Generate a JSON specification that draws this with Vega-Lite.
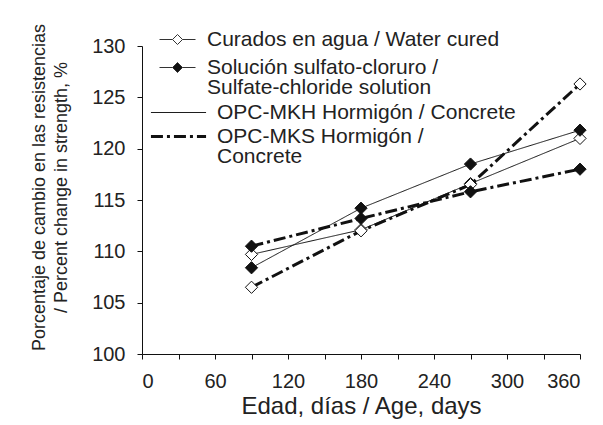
{
  "$schema": "https://vega.github.io/schema/vega-lite/v6.json",
  "width": 438,
  "height": 308,
  "autosize": "none",
  "padding": {"left": 142, "top": 46, "right": 23, "bottom": 71},
  "background": "white",
  "config": {
    "view": {"stroke": null},
    "font": "Liberation Sans",
    "style": {"guide-label": {"lineHeight": 20}},
    "axis": {
      "grid": false,
      "domainColor": "#111",
      "tickColor": "#111",
      "tickSize": 5,
      "labelColor": "#222",
      "labelFont": "Liberation Sans",
      "labelFontSize": 20,
      "labelPadding": 12,
      "titleFont": "Liberation Sans",
      "titleFontSize": 18,
      "titleFontWeight": "normal",
      "titleColor": "#222"
    },
    "legend": {
      "labelFont": "Liberation Sans",
      "labelFontSize": 21,
      "labelColor": "#222",
      "labelLimit": 400
    }
  },
  "data": {
    "values": [
      {"day": 90, "mix": "OPC-MKH Hormigón / Concrete", "curing": "Curados en agua / Water cured", "value": 109.7},
      {"day": 180, "mix": "OPC-MKH Hormigón / Concrete", "curing": "Curados en agua / Water cured", "value": 112.1},
      {"day": 270, "mix": "OPC-MKH Hormigón / Concrete", "curing": "Curados en agua / Water cured", "value": 116.6},
      {"day": 360, "mix": "OPC-MKH Hormigón / Concrete", "curing": "Curados en agua / Water cured", "value": 121.0},
      {"day": 90, "mix": "OPC-MKH Hormigón / Concrete", "curing": "Solución sulfato-cloruro /|Sulfate-chloride solution", "value": 108.4},
      {"day": 180, "mix": "OPC-MKH Hormigón / Concrete", "curing": "Solución sulfato-cloruro /|Sulfate-chloride solution", "value": 114.2},
      {"day": 270, "mix": "OPC-MKH Hormigón / Concrete", "curing": "Solución sulfato-cloruro /|Sulfate-chloride solution", "value": 118.5},
      {"day": 360, "mix": "OPC-MKH Hormigón / Concrete", "curing": "Solución sulfato-cloruro /|Sulfate-chloride solution", "value": 121.8},
      {"day": 90, "mix": "OPC-MKS Hormigón /|Concrete", "curing": "Curados en agua / Water cured", "value": 106.5},
      {"day": 180, "mix": "OPC-MKS Hormigón /|Concrete", "curing": "Curados en agua / Water cured", "value": 112.0},
      {"day": 270, "mix": "OPC-MKS Hormigón /|Concrete", "curing": "Curados en agua / Water cured", "value": 116.5},
      {"day": 360, "mix": "OPC-MKS Hormigón /|Concrete", "curing": "Curados en agua / Water cured", "value": 126.3},
      {"day": 90, "mix": "OPC-MKS Hormigón /|Concrete", "curing": "Solución sulfato-cloruro /|Sulfate-chloride solution", "value": 110.5},
      {"day": 180, "mix": "OPC-MKS Hormigón /|Concrete", "curing": "Solución sulfato-cloruro /|Sulfate-chloride solution", "value": 113.2},
      {"day": 270, "mix": "OPC-MKS Hormigón /|Concrete", "curing": "Solución sulfato-cloruro /|Sulfate-chloride solution", "value": 115.8},
      {"day": 360, "mix": "OPC-MKS Hormigón /|Concrete", "curing": "Solución sulfato-cloruro /|Sulfate-chloride solution", "value": 118.0}
    ]
  },
  "encoding": {
    "x": {
      "field": "day",
      "type": "quantitative",
      "scale": {"domain": [0, 360], "nice": false},
      "axis": {
        "values": [0, 30, 60, 90, 120, 150, 180, 210, 240, 270, 300, 330, 360],
        "labelExpr": "datum.value % 60 == 0 ? datum.label : ''",
        "title": "Edad, días / Age, days",
        "titleFontSize": 24,
        "titlePadding": 3
      }
    },
    "y": {
      "field": "value",
      "type": "quantitative",
      "scale": {"domain": [100, 130], "nice": false, "zero": false},
      "axis": {
        "values": [100, 105, 110, 115, 120, 125, 130],
        "title": ["Porcentaje de cambio en las resistencias", "/ Percent change in strength, %"],
        "titleLineHeight": 22,
        "titlePadding": 21,
        "titleY": 141
      }
    }
  },
  "layer": [
    {
      "mark": {"type": "line", "color": "#111"},
      "encoding": {
        "detail": {"field": "curing", "type": "nominal"},
        "strokeDash": {
          "field": "mix",
          "type": "nominal",
          "scale": {"range": [[1, 0], [12, 4, 3, 4]]},
          "legend": {
            "title": null,
            "orient": "none",
            "legendX": 26,
            "legendY": 56,
            "rowPadding": 2,
            "symbolType": "M-4.5,0H4.5",
            "symbolSize": 150,
            "symbolStrokeColor": "#111",
            "labelOffset": 28,
            "labelExpr": "split(datum.label, '|')"
          }
        },
        "strokeWidth": {
          "field": "mix",
          "type": "nominal",
          "scale": {"type": "ordinal", "range": [1, 3]}
        }
      }
    },
    {
      "mark": {"type": "point", "shape": "diamond", "filled": true, "stroke": "#111", "strokeWidth": 1, "size": 150, "opacity": 1},
      "encoding": {
        "fill": {
          "field": "curing",
          "type": "nominal",
          "scale": {"range": ["white", "#111"]},
          "legend": {
            "title": null,
            "orient": "none",
            "legendX": 25,
            "legendY": -17,
            "rowPadding": 6,
            "symbolType": "M-3.6,0H-1M1,0H3.6M0,-1L1,0L0,1L-1,0Z",
            "symbolStrokeColor": "#333",
            "symbolStrokeWidth": 1,
            "labelOffset": 19,
            "labelExpr": "split(datum.label, '|')"
          }
        }
      }
    }
  ]
}
